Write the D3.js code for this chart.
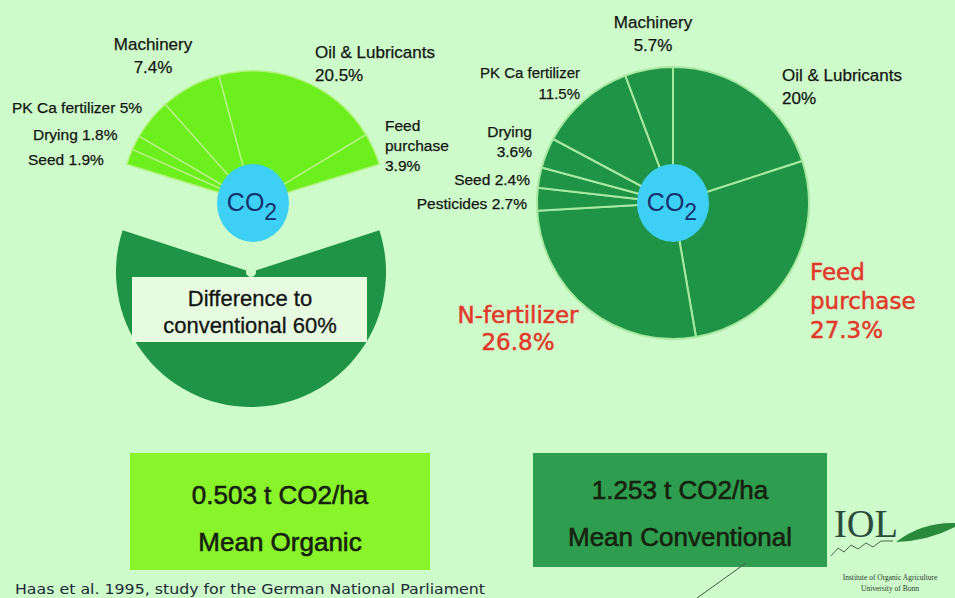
<!DOCTYPE html>
<html>
<head>
<meta charset="utf-8">
<script src="https://cdn.jsdelivr.net/npm/d3@7"></script>
<style>
  html, body { margin: 0; padding: 0; background: #cdfbc9; overflow: hidden; }
  svg { display: block; }
  text { font-family: "Liberation Sans", Arial, sans-serif; }
</style>
</head>
<body>
<svg id="chart" width="955" height="598"></svg>
<script>
// ---- data (percent of conventional total) ----
const convLabels = ["Oil & Lubricants", "Feed purchase", "N-fertilizer", "Pesticides", "Seed", "Drying", "PK Ca fertilizer", "Machinery"];
const convValues = [20, 27.3, 26.8, 2.7, 2.4, 3.6, 11.5, 5.7];

const orgLabels = ["Seed", "Drying", "PK Ca fertilizer", "Machinery", "Oil & Lubricants", "Feed purchase"];
const orgValues = [1.9, 1.8, 5, 7.4, 20.5, 3.9];

const diffLabel = ["Difference to", "conventional"];
const diffValue = 60;

const meanLabels = ["Mean Organic", "Mean Conventional"];
const meanValues = [0.503, 1.253];
const unit = "t CO2/ha";

const source = "Haas et al. 1995, study for the German National Parliament";

// ---- label layout (where each slice label sits, how it wraps) ----
// lines: 1 = "label value%", 2 = label / value%, 3 = words / value%
const orgLayout = {
  "Seed":             { x: 28,  y: 160, anchor: "start",  lines: 1, size: 15.5 },
  "Drying":           { x: 33,  y: 135, anchor: "start",  lines: 1, size: 15.5 },
  "PK Ca fertilizer": { x: 12,  y: 108, anchor: "start",  lines: 1, size: 15.5 },
  "Machinery":        { x: 153, y: 44,  anchor: "middle", lines: 2, size: 17, gap: 23 },
  "Oil & Lubricants": { x: 315, y: 52,  anchor: "start",  lines: 2, size: 17, gap: 23 },
  "Feed purchase":    { x: 385, y: 126, anchor: "start",  lines: 3, size: 15.5, gap: 20 }
};
const convLayout = {
  "Machinery":        { x: 653, y: 22,  anchor: "middle", lines: 2, size: 17, gap: 23 },
  "PK Ca fertilizer": { x: 580, y: 73,  anchor: "end",    lines: 2, size: 15, gap: 21 },
  "Drying":           { x: 532, y: 132, anchor: "end",    lines: 2, size: 15.5, gap: 20 },
  "Seed":             { x: 530, y: 180, anchor: "end",    lines: 1, size: 15.5 },
  "Pesticides":       { x: 527, y: 204, anchor: "end",    lines: 1, size: 15.5 },
  "Oil & Lubricants": { x: 782, y: 75,  anchor: "start",  lines: 2, size: 17, gap: 23 },
  "Feed purchase":    { x: 810, y: 272, anchor: "start",  lines: 3, size: 23, gap: 29, red: true },
  "N-fertilizer":     { x: 518, y: 315, anchor: "middle", lines: 2, size: 23, gap: 27, red: true }
};

const svg = d3.select("#chart");
const W = 955, H = 598;

svg.append("rect").attr("width", W).attr("height", H).attr("fill", "#cdfbc9");

function labelLines(name, value, n) {
  const pct = value + "%";
  if (n === 1) return [name + " " + pct];
  if (n === 2) return [name, pct];
  return name.split(" ").concat([pct]);
}

function drawLabels(g, labels, values, layout) {
  labels.forEach((name, i) => {
    const L = layout[name];
    const lines = labelLines(name, values[i], L.lines);
    const col = L.red ? "#e3372c" : "#141414";
    const t = g.append("text")
      .attr("x", L.x)
      .attr("y", L.y)
      .attr("text-anchor", L.anchor)
      .attr("font-size", L.size)
      .attr("fill", col)
      .attr("stroke", col)
      .attr("stroke-width", L.red ? 0.5 : 0.25)
      .style("font-family", L.red ? "'DejaVu Sans', sans-serif" : null);
    lines.forEach((s, j) => {
      t.append("tspan")
        .attr("x", L.x)
        .attr("y", L.y + j * (L.gap || 0))
        .attr("dy", "0.35em")
        .text(s);
    });
  });
}

function co2(g, cx, cy) {
  g.append("ellipse").attr("cx", cx).attr("cy", cy).attr("rx", 36).attr("ry", 39).attr("fill", "#3ecff5");
  const t = g.append("text")
    .attr("x", cx - 1).attr("y", cy + 8)
    .attr("text-anchor", "middle")
    .attr("font-size", 25)
    .attr("fill", "#17306e");
  t.append("tspan").text("CO");
  t.append("tspan").attr("dy", 9).attr("font-size", 23).text("2");
}

// ---- organic: fan of slices on top, exploded 60% difference below ----
const orgC = [253, 203];
const orgR = 132;
const orgSpan = d3.sum(orgValues) / 100 * 2 * Math.PI;
const orgPie = d3.pie().sort(null).value(d => d)
  .startAngle(-orgSpan / 2).endAngle(orgSpan / 2);
const orgArc = d3.arc().innerRadius(0).outerRadius(orgR);

const gOrg = svg.append("g").attr("transform", `translate(${orgC})`);

const diffSpan = diffValue / 100 * 2 * Math.PI;
const diffArc = d3.arc().innerRadius(5).outerRadius(135)
  .startAngle(Math.PI - diffSpan / 2).endAngle(Math.PI + diffSpan / 2);
gOrg.append("path")
  .attr("transform", "translate(-2,69)")
  .attr("d", diffArc())
  .attr("fill", "#1f9446");

gOrg.selectAll("path.slice")
  .data(orgPie(orgValues))
  .join("path")
  .attr("class", "slice")
  .attr("d", orgArc)
  .attr("fill", "#6def1d")
  .attr("stroke", "#b2f27e")
  .attr("stroke-width", 1.5);

// difference box
svg.append("rect")
  .attr("x", 132).attr("y", 277).attr("width", 235).attr("height", 65)
  .attr("fill", "#e7fbe0");
const dt = svg.append("text")
  .attr("text-anchor", "middle")
  .attr("font-size", 22)
  .attr("fill", "#141414")
  .attr("stroke", "#141414")
  .attr("stroke-width", 0.3);
dt.append("tspan").attr("x", 250).attr("y", 298).attr("dy", "0.35em").text(diffLabel[0]);
dt.append("tspan").attr("x", 250).attr("y", 325).attr("dy", "0.35em").text(diffLabel[1] + " " + diffValue + "%");

co2(svg, orgC[0], orgC[1]);
drawLabels(svg, orgLabels, orgValues, orgLayout);

// ---- conventional: full pie ----
const convC = [673, 203];
const convR = 136;
const convPie = d3.pie().sort(null).value(d => d);
const convArc = d3.arc().innerRadius(0).outerRadius(convR);

svg.append("g")
  .attr("transform", `translate(${convC})`)
  .selectAll("path")
  .data(convPie(convValues))
  .join("path")
  .attr("d", convArc)
  .attr("fill", "#1f9446")
  .attr("stroke", "#a9e8a3")
  .attr("stroke-width", 2);

co2(svg, convC[0], convC[1]);
drawLabels(svg, convLabels, convValues, convLayout);

// ---- mean boxes ----
const boxes = [
  { x: 130, y: 453, w: 300, h: 117, fill: "#8af42a", ty: [495, 542] },
  { x: 533, y: 453, w: 294, h: 114, fill: "#2f9d50", ty: [490, 537] }
];
boxes.forEach((b, i) => {
  svg.append("rect").attr("x", b.x).attr("y", b.y).attr("width", b.w).attr("height", b.h).attr("fill", b.fill);
  const t = svg.append("text")
    .attr("text-anchor", "middle")
    .attr("font-size", 26)
    .attr("fill", "#16220e")
    .attr("stroke", "#16220e")
    .attr("stroke-width", 0.6);
  t.append("tspan").attr("x", b.x + b.w / 2).attr("y", b.ty[0]).attr("dy", "0.35em").text(meanValues[i].toFixed(3) + " " + unit);
  t.append("tspan").attr("x", b.x + b.w / 2).attr("y", b.ty[1]).attr("dy", "0.35em").text(meanLabels[i]);
});

// ---- source line ----
svg.append("text")
  .attr("x", 15).attr("y", 594)
  .attr("font-size", 14)
  .attr("textLength", 470)
  .attr("lengthAdjust", "spacingAndGlyphs")
  .style("font-family", "'DejaVu Sans', sans-serif")
  .attr("fill", "#1e2a3a")
  .text(source);

// ---- IOL logo ----
const logo = svg.append("g");
logo.append("text")
  .attr("x", 834).attr("y", 537)
  .attr("font-size", 41)
  .attr("textLength", 64)
  .attr("lengthAdjust", "spacingAndGlyphs")
  .style("font-family", "'Liberation Serif', serif")
  .attr("fill", "#2b4a3c")
  .text("IOL");
logo.append("path")
  .attr("d", "M896,542 Q922,522 955,523 L955,527 Q928,541 896,542 Z")
  .attr("fill", "#2a8a3c");
logo.append("path")
  .attr("d", "M831,556 L838,548 L844,552 L851,545 L858,549 L866,543 L873,547 L881,541 L893,541")
  .attr("fill", "none").attr("stroke", "#4d6650").attr("stroke-width", 1);
logo.append("line")
  .attr("x1", 697).attr("y1", 598).attr("x2", 746).attr("y2", 563)
  .attr("stroke", "#3c5a44").attr("stroke-width", 1);
logo.append("text")
  .attr("x", 890).attr("y", 580).attr("text-anchor", "middle")
  .attr("font-size", 7.5).attr("fill", "#2a3a30")
  .style("font-family", "'Liberation Serif', serif")
  .text("Institute of Organic Agriculture");
logo.append("text")
  .attr("x", 890).attr("y", 591).attr("text-anchor", "middle")
  .attr("font-size", 7.5).attr("fill", "#2a3a30")
  .style("font-family", "'Liberation Serif', serif")
  .text("University of Bonn");
</script>
</body>
</html>
